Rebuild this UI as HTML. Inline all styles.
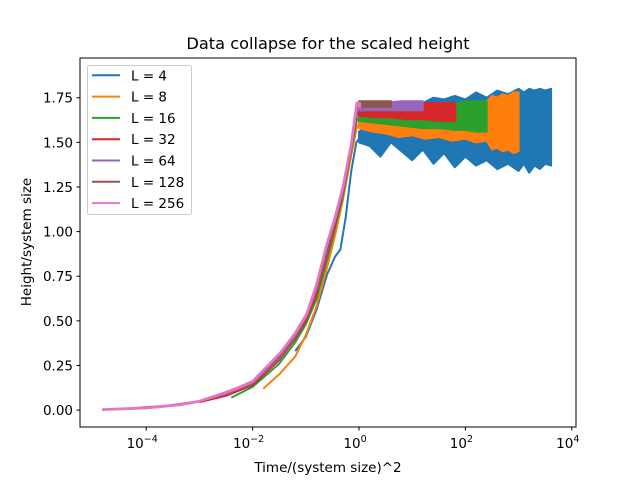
<!DOCTYPE html>
<html><head><meta charset="utf-8"><style>
body{margin:0;background:#fff;}
svg text{font-family:"DejaVu Sans","Liberation Sans",sans-serif;fill:#000;}
</style></head><body>
<svg id="chart" width="640" height="480" viewBox="0 0 640 480">
<rect width="640" height="480" fill="#fff"/>
<text x="328" y="49" font-size="16.2" text-anchor="middle">Data collapse for the scaled height</text>
<g id="plot"></g>
<rect x="80" y="58" width="496" height="369" fill="none" stroke="#000" stroke-width="1"/>
<g id="xt"></g>
<g id="yt"></g>
<text x="328" y="472" font-size="13.5" text-anchor="middle">Time/(system size)^2</text>
<text transform="translate(31,242) rotate(-90)" font-size="13.5" text-anchor="middle">Height/system size</text>
<g id="legend"></g>
</svg>
<script>
const labels = ["L = 4","L = 8","L = 16","L = 32","L = 64","L = 128","L = 256"];
const colors = ["#1f77b4","#ff7f0e","#2ca02c","#d62728","#9467bd","#8c564b","#e377c2"];
// rising part: log10(t/L^2) and h/L
const riseT = [
 [-1.2,-1,-0.8,-0.6,-0.45,-0.35,-0.25,-0.15,-0.05,0.05],
 [-1.8,-1.5,-1.2,-1,-0.8,-0.6,-0.45,-0.3,-0.15,-0.03],
 [-2.4,-2,-1.5,-1.2,-1,-0.8,-0.6,-0.45,-0.3,-0.15,-0.03],
 [-3,-2.5,-2,-1.5,-1.2,-1,-0.8,-0.6,-0.45,-0.3,-0.15,-0.03],
 [-3.6,-3,-2.5,-2,-1.5,-1.2,-1,-0.8,-0.6,-0.45,-0.3,-0.15,-0.03],
 [-4.2,-3.5,-3,-2.5,-2,-1.5,-1.2,-1,-0.8,-0.6,-0.45,-0.3,-0.15,-0.03],
 [-4.83,-4,-3.36,-3,-2.5,-2.24,-2,-1.48,-1.2,-0.98,-0.8,-0.61,-0.45,-0.3,-0.15,-0.04,0]
];
const riseH = [
 [0.33,0.41,0.56,0.76,0.86,0.9,1.08,1.33,1.5,1.54],
 [0.12,0.2,0.3,0.42,0.58,0.8,0.98,1.18,1.42,1.6],
 [0.07,0.13,0.26,0.38,0.48,0.62,0.84,1.02,1.2,1.45,1.64],
 [0.045,0.08,0.14,0.28,0.4,0.5,0.65,0.87,1.04,1.22,1.46,1.67],
 [0.025,0.05,0.09,0.15,0.29,0.41,0.52,0.67,0.89,1.06,1.23,1.47,1.69],
 [0.012,0.027,0.05,0.095,0.155,0.3,0.42,0.53,0.68,0.9,1.07,1.24,1.48,1.71],
 [0.003,0.012,0.03,0.05,0.1,0.13,0.16,0.32,0.43,0.54,0.7,0.92,1.08,1.25,1.48,1.72,1.72]
];
// plateau band: log10 times, upper and lower envelope
const platT = [
 [0,0.2,0.4,0.6,0.8,1,1.2,1.4,1.6,1.8,2,2.2,2.4,2.6,2.8,3,3.1,3.2,3.3,3.4,3.5,3.61],
 [0,0.25,0.5,0.75,1,1.25,1.5,1.75,2,2.2,2.4,2.5,2.6,2.7,2.8,2.9,3],
 [0,0.3,0.6,0.9,1.2,1.5,1.8,2,2.2,2.4],
 [0,0.3,0.6,0.9,1.2,1.5,1.81],
 [0,0.4,0.8,1.2],
 [0,0.3,0.6],
 [0,0.02]
];
const platHi = [
 [1.56,1.6,1.58,1.62,1.6,1.66,1.72,1.75,1.74,1.76,1.74,1.78,1.75,1.79,1.77,1.8,1.78,1.8,1.79,1.8,1.79,1.8],
 [1.66,1.67,1.68,1.68,1.7,1.69,1.71,1.7,1.72,1.72,1.73,1.76,1.75,1.77,1.76,1.78,1.78],
 [1.68,1.69,1.7,1.7,1.71,1.72,1.72,1.73,1.73,1.73],
 [1.7,1.71,1.71,1.72,1.72,1.72,1.72],
 [1.72,1.72,1.73,1.73],
 [1.73,1.73,1.73],
 [1.72,1.72]
];
const platLo = [
 [1.5,1.48,1.42,1.5,1.45,1.4,1.46,1.38,1.44,1.36,1.42,1.37,1.4,1.35,1.38,1.34,1.38,1.33,1.37,1.35,1.38,1.37],
 [1.58,1.56,1.55,1.53,1.54,1.52,1.53,1.51,1.52,1.5,1.51,1.46,1.47,1.45,1.46,1.44,1.45],
 [1.62,1.61,1.6,1.59,1.58,1.58,1.57,1.57,1.56,1.56],
 [1.65,1.64,1.64,1.63,1.63,1.62,1.62],
 [1.68,1.68,1.68,1.68],
 [1.7,1.7,1.7],
 [1.7,1.7]
];
const xTicks = [-4,-2,0,2,4];
const yTicks = [0,0.25,0.5,0.75,1.0,1.25,1.5,1.75];
const yTickLabels = ["0.00","0.25","0.50","0.75","1.00","1.25","1.50","1.75"];

const NS="http://www.w3.org/2000/svg";
function X(l){return 359+53.2*l;}
function Y(v){return 410.1-178.5*v;}
function mk(tag,attrs,parent){const e=document.createElementNS(NS,tag);for(const k in attrs)e.setAttribute(k,attrs[k]);parent.appendChild(e);return e;}
const plot=document.getElementById('plot');
for(let s=0;s<labels.length;s++){
  const g=mk('g',{},plot);
  
  
  const pts=riseT[s].map((t,i)=>X(t).toFixed(1)+','+Y(riseH[s][i]).toFixed(1));
  const line=mk('polyline',{points:pts.join(' '),fill:'none',stroke:colors[s],'stroke-width':s===6?2.8:2,'stroke-linejoin':'round'},g);
  
  
  const up=platT[s].map((t,i)=>X(t).toFixed(1)+','+Y(platHi[s][i]).toFixed(1));
  const dn=platT[s].map((t,i)=>X(t).toFixed(1)+','+Y(platLo[s][i]).toFixed(1)).reverse();
  const band=mk('polygon',{points:up.concat(dn).join(' '),fill:colors[s],stroke:colors[s],'stroke-width':2,'stroke-linejoin':'round'},g);
  
  
}
const xt=document.getElementById('xt');
xTicks.forEach(l=>{
  const x=X(l);
  mk('line',{x1:x,x2:x,y1:427,y2:430.5,stroke:'#000'},xt);
  const t=mk('text',{x:x-4,y:448,'font-size':13.5,'text-anchor':'middle'},xt);
  
  
  t.textContent='10';
  const sup=mk('tspan',{dy:-6,'font-size':9.5},t);
  sup.textContent=(l<0?'\u2212'+(-l):''+l);
});
const yt=document.getElementById('yt');
yTicks.forEach((v,i)=>{
  const y=Y(v);
  mk('line',{x1:76.5,x2:80,y1:y,y2:y,stroke:'#000'},yt);
  const t=mk('text',{x:73,y:y+5,'font-size':13.5,'text-anchor':'end'},yt);
  
  
  t.textContent=yTickLabels[i];
});
const lg=document.getElementById('legend');
const box=mk('rect',{x:87.5,y:65.5,width:104,height:149,rx:2,fill:'#fff','fill-opacity':0.8,stroke:'#ccc'},lg);


labels.forEach((lab,i)=>{
  const y=75.3+21.3*i;
  const e=mk('g',{},lg);
  
  
  mk('line',{x1:92,x2:120,y1:y,y2:y,stroke:colors[i],'stroke-width':2},e);
  const t=mk('text',{x:131,y:y+5,'font-size':13.5},e);
  t.textContent=lab;
});
</script>
</body></html>
